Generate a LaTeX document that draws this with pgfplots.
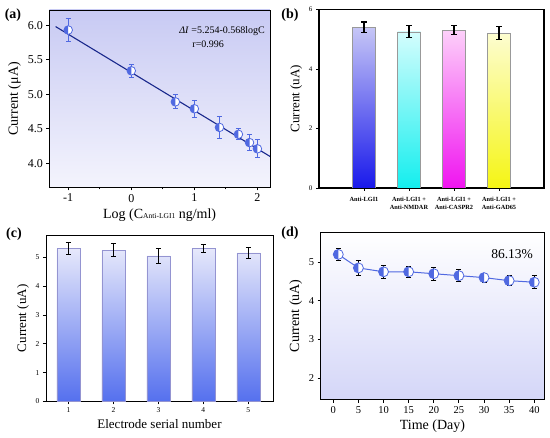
\documentclass[border=0pt]{standalone}
\usepackage{pgfplots}
\pgfplotsset{compat=1.18}
\usepackage{fontspec}
\setmainfont{Liberation Serif}
\usetikzlibrary{plotmarks}
\definecolor{mblue}{RGB}{80,105,225}
\definecolor{lineblue}{RGB}{25,40,140}
\definecolor{abgtop}{RGB}{200,202,243}
\definecolor{abgbot}{RGB}{244,244,253}
\definecolor{dbgbot}{RGB}{212,214,248}
\definecolor{b1t}{RGB}{198,198,246}
\definecolor{b1b}{RGB}{25,25,235}
\definecolor{b2t}{RGB}{212,253,253}
\definecolor{b2b}{RGB}{20,238,238}
\definecolor{b3t}{RGB}{253,208,250}
\definecolor{b3b}{RGB}{240,20,240}
\definecolor{b4t}{RGB}{253,253,208}
\definecolor{b4b}{RGB}{245,245,20}
\definecolor{ct}{RGB}{230,232,251}
\definecolor{cb}{RGB}{85,112,238}
\pgfdeclareplotmark{lefthalf}{%
 \begin{pgfscope}
 \pgfsetfillcolor{white}
 \pgfpathcircle{\pgfpointorigin}{\pgfplotmarksize}
 \pgfusepathqfill
 \pgfpathmoveto{\pgfqpoint{0pt}{\pgfplotmarksize}}
 \pgfpatharc{90}{270}{\pgfplotmarksize}
 \pgfpathclose
 \pgfsetfillcolor{mblue}
 \pgfusepathqfill
 \end{pgfscope}
 \pgfpathcircle{\pgfpointorigin}{\pgfplotmarksize}
 \pgfusepathqstroke
}
\begin{document}
\begin{tikzpicture}
\path[use as bounding box] (0,0) rectangle (550pt,438pt);
\pgfplotsset{
 every axis/.append style={
   scale only axis, anchor=south west, tick align=outside, tick pos=left,
   /pgf/number format/assume math mode=true,
   axis line style={line width=0.9pt},
   major tick length=3pt, minor tick length=2pt,
   every tick/.style={black, line width=0.8pt},
 }
}
% (a)
\begin{axis}[at={(49.3pt,250.5pt)}, width=220.7pt, height=177.5pt,
 xmin=-1.3, xmax=2.2, ymin=3.65, ymax=6.22,
 xtick={-1,0,1,2}, minor xtick={-0.5,0.5,1.5},
 ytick={4,4.5,5,5.5,6},
 yticklabel style={/pgf/number format/.cd, fixed, fixed zerofill, precision=1},
 tick label style={font=\fontsize{12}{12}\selectfont},
 label style={font=\fontsize{14}{14}\selectfont},
 xlabel={Log (C{\fontsize{7.5}{7.5}\selectfont Anti-LGI1} ng/ml)},
 ylabel={Current (μA)},
 axis background/.style={top color=abgtop, bottom color=abgbot},
]
\addplot[lineblue, line width=1.1pt] coordinates {(-1.2,5.98) (2.2,4.1)};
\addplot[only marks, mark=lefthalf, mark size=4.3pt, color=mblue,
 mark options={line width=0.8pt},
 error bars/.cd, y dir=both, y explicit,
 error bar style={mblue, line width=0.9pt},
 error mark options={mblue, rotate=90, mark size=2.5pt, line width=0.9pt}]
 table[x=x, y=y, y error=e] {
x y e
-1 5.93 0.17
0 5.34 0.09
0.699 4.89 0.10
1 4.79 0.12
1.398 4.52 0.16
1.699 4.42 0.08
1.875 4.30 0.12
2 4.21 0.13
};
\node[font=\fontsize{10}{10}\selectfont] at (axis cs:1.44,5.915) {\textit{ΔI} =5.254-0.568logC};
\node[font=\fontsize{10}{10}\selectfont] at (axis cs:1.22,5.72) {r=0.996};
\end{axis}
% (b)
\begin{axis}[at={(319pt,250pt)}, width=225pt, height=178.5pt,
 xmin=0, xmax=5, ymin=0, ymax=6, ytick={0,2,4,6},
 xtick={1,2,3,4},
 xticklabels={Anti-LGI1, {Anti-LGI1 +\\Anti-NMDAR}, {Anti-LGI1 +\\Anti-CASPR2}, {Anti-LGI1 +\\Anti-GAD65}},
 xticklabel style={anchor=north, align=center, yshift=-3pt, font=\bfseries\fontsize{6.3}{7.8}\selectfont},
 yticklabel style={font=\fontsize{7}{7}\selectfont},
 axis line style={line width=1.1pt},
 label style={font=\fontsize{13}{13}\selectfont},
 ylabel={Current (uA)},
]
\addplot[ybar, bar width=23pt, bar shift=0pt, draw=gray!80, top color=b1t, bottom color=b1b] coordinates {(1,5.4)};
\addplot[ybar, bar width=23pt, bar shift=0pt, draw=gray!80, top color=b2t, bottom color=b2b] coordinates {(2,5.25)};
\addplot[ybar, bar width=23pt, bar shift=0pt, draw=gray!80, top color=b3t, bottom color=b3b] coordinates {(3,5.3)};
\addplot[ybar, bar width=23pt, bar shift=0pt, draw=gray!80, top color=b4t, bottom color=b4b] coordinates {(4,5.2)};
\addplot[draw=none, mark=none, error bars/.cd, y dir=both, y explicit,
 error bar style={draw=black, line width=1.1pt},
 error mark options={draw=black, rotate=90, mark size=3pt, line width=1.1pt}]
 coordinates {(1,5.4) +- (0,0.18) (2,5.25) +- (0,0.2) (3,5.3) +- (0,0.15) (4,5.2) +- (0,0.22)};
\end{axis}
% (c)
\begin{axis}[at={(46pt,36.5pt)}, width=227pt, height=166.2pt,
 xmin=0.5, xmax=5.55, ymin=0, ymax=5.76, ytick={0,1,2,3,4,5},
 xtick={1,2,3,4,5},
 tick label style={font=\fontsize{7.5}{7.5}\selectfont},
 label style={font=\fontsize{13}{13}\selectfont},
 xlabel={Electrode serial number}, ylabel={Current (uA)},
]
\addplot[ybar, bar width=23pt, bar shift=0pt, draw=gray!60!blue!60, top color=ct, bottom color=cb]
 coordinates {(1,5.3) (2,5.25) (3,5.05) (4,5.3) (5,5.15)};
\addplot[draw=none, mark=none, error bars/.cd, y dir=both, y explicit,
 error bar style={draw=black, line width=0.8pt},
 error mark options={draw=black, rotate=90, mark size=2.5pt, line width=0.8pt}]
 coordinates {(1,5.3) +- (0,0.2) (2,5.25) +- (0,0.22) (3,5.05) +- (0,0.27) (4,5.3) +- (0,0.15) (5,5.15) +- (0,0.18)};
\end{axis}
% (d)
\begin{axis}[at={(320.7pt,38.3pt)}, width=223.6pt, height=167.7pt,
 xmin=-2.5, xmax=42, ymin=1.44, ymax=5.78,
 xtick={0,5,10,15,20,25,30,35,40}, ytick={2,3,4,5},
 tick label style={font=\fontsize{10.5}{10.5}\selectfont},
 label style={font=\fontsize{14}{14}\selectfont},
 xlabel={Time (Day)}, ylabel={Current (uA)},
 axis background/.style={top color=white, bottom color=dbgbot},
]
\addplot[mblue, line width=1pt, mark=lefthalf, mark size=5pt,
 mark options={line width=0.8pt},
 error bars/.cd, y dir=both, y explicit,
 error bar style={black, line width=0.8pt},
 error mark options={black, rotate=90, mark size=2.5pt, line width=0.8pt}]
 table[x=x, y=y, y error=e] {
x y e
1 5.2 0.15
5 4.85 0.2
10 4.75 0.16
15 4.75 0.15
20 4.7 0.17
25 4.65 0.15
30 4.6 0.12
35 4.52 0.13
40 4.48 0.17
};
\node[font=\fontsize{13.5}{13.5}\selectfont] at (axis cs:35.6,5.2) {86.13\%};
\end{axis}
\node[font=\bfseries\fontsize{14}{14}\selectfont] at (13pt,423pt) {(a)};
\node[font=\bfseries\fontsize{14}{14}\selectfont] at (290pt,423pt) {(b)};
\node[font=\bfseries\fontsize{14}{14}\selectfont] at (14pt,204pt) {(c)};
\node[font=\bfseries\fontsize{14}{14}\selectfont] at (290pt,205pt) {(d)};
\end{tikzpicture}
\end{document}
